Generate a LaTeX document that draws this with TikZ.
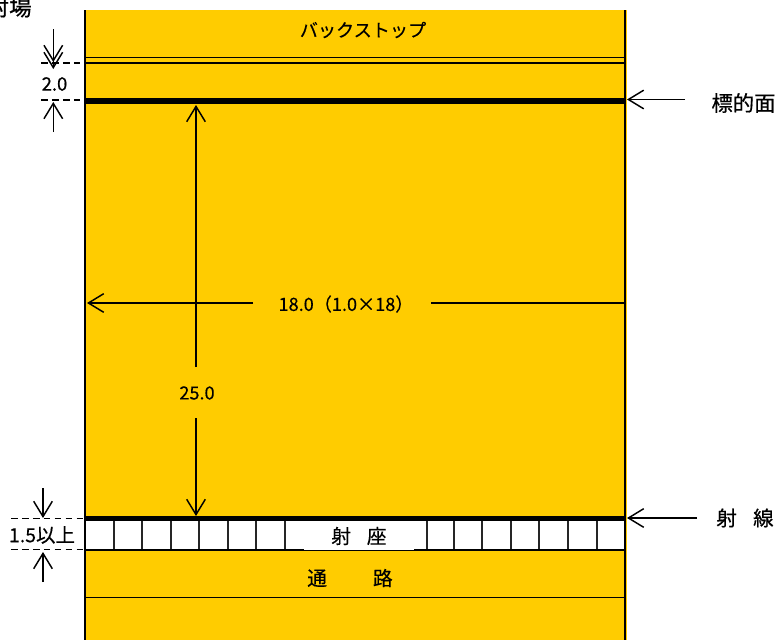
\documentclass[tikz,border=0pt]{standalone}
\usepackage{fontspec}
\setmainfont{Noto Sans CJK JP}
\newfontfamily\heavyfont[FakeBold=0.6]{Noto Sans CJK JP}
\newfontfamily\midfont[FakeBold=0.25]{Noto Sans CJK JP}
\usetikzlibrary{arrows.meta}
\tikzset{
  x=0.75pt,y=-0.75pt,
  dimline/.style={line width=1.1pt,-{Straight Barb[length=11.5pt,width=14pt,line width=1.1pt]}},
  plainline/.style={line width=1.1pt},
  guide/.style={line width=1.1pt,dash pattern=on 5pt off 3.2pt},
  rule/.style={line width=1.25pt},
  thinrule/.style={line width=1.05pt},
  heavy/.style={line width=3.8pt},
  edge/.style={line width=1.8pt},
  seatline/.style={line width=1.1pt,draw=black!85},
  lab/.style={inner sep=0pt,text=black},
  fa/.style={lab,font=\midfont\fontsize{13.6pt}{15pt}\selectfont},
  fb/.style={lab,font=\midfont\fontsize{14.8pt}{16pt}\selectfont},
  fc/.style={lab,font=\heavyfont\fontsize{15.3pt}{17pt}\selectfont},
}
\begin{document}
\begin{tikzpicture}
\useasboundingbox (0,0) rectangle (776,640);
\clip (0,0) rectangle (776,640);
% ground
\fill[fill={rgb,255:red,255;green,204;blue,0}] (85,10) rectangle (627,640);
\fill[white] (85,520) rectangle (625,550);
% seats
\foreach \sx in {114,142,171,199,228,256,285,427,454,482,511,539,568,597}
  \draw[seatline] (\sx,520) -- (\sx,550);
% horizontal rules
\draw[rule] (85,57.5) -- (625,57.5);
\draw[rule] (85,63) -- (625,63);
\draw[rule] (85,550) -- (625,550);
\draw[thinrule] (85,597.5) -- (625,597.5);
\fill[white] (304,540) rectangle (414,549.6);
\draw[heavy] (85,101) -- (625,101);
\draw[heavy] (85,518.5) -- (625,518.5);
\draw[edge] (85,10) -- (85,640);
\draw[edge] (625,10) -- (625,640);
% labels
\node[fa] (bs) at (363,30) {バックストップ};
\node[fc,anchor=east,font=\heavyfont\fontsize{17pt}{18pt}\selectfont] (site) at (32,7) {射場};
\node[fb,font=\heavyfont\fontsize{13.8pt}{15pt}\selectfont] (d2) at (54.5,84) {2.0};
\node[fb,font=\midfont\fontsize{14.6pt}{16pt}\selectfont] (d15) at (42,535) {1.5以上};
\node[fc,font=\heavyfont\fontsize{16pt}{17pt}\selectfont] (tface) at (743.5,103) {標的面};
\node[fc] (sline) at (745,518) {射\hspace{0.8em}線};
\node[fa] (wide) at (346,304) {18.0（1.0×18）};
\node[fa] (dist) at (197,393) {25.0};
\node[fb] (seat) at (359,536) {射\hspace{0.8em}座};
\node[fb] (path) at (350,578) {通\hspace{2.33em}路};
% coordinates
\coordinate (a1) at (53.3,29); \coordinate (a1t) at (53.3,62);
\coordinate (a1u) at (53.3,69);
\coordinate (a2) at (53.3,132); \coordinate (a2t) at (53.3,102);
\coordinate (b1) at (43,488); \coordinate (b1t) at (43,518);
\coordinate (b2) at (43,582); \coordinate (b2t) at (43,552);
\coordinate (t1) at (685,99.5); \coordinate (t1t) at (627,99.5);
\coordinate (s1) at (697,518); \coordinate (s1t) at (627,518);
\coordinate (w1) at (253,303); \coordinate (w1t) at (87,303);
\coordinate (w2) at (431,303); \coordinate (w2e) at (625,303);
\coordinate (v1) at (196,367); \coordinate (v1t) at (196,105);
\coordinate (v2) at (196,418); \coordinate (v2t) at (196,516);
% guides
\coordinate (g1a) at (41,63); \coordinate (g1b) at (85,63);
\coordinate (g2a) at (41,100); \coordinate (g2b) at (85,100);
\coordinate (g3a) at (11,518.5); \coordinate (g3b) at (83,518.5);
\coordinate (g4a) at (11,549.5); \coordinate (g4b) at (83,549.5);
\draw[guide] (g1a) -- (g1b);
\draw[guide] (g2a) -- (g2b);
\draw[guide] (g3a) -- (g3b);
\draw[guide] (g4a) -- (g4b);
% dimension arrows
\draw[dimline] (a1) -- (a1t);
\draw[dimline] (a1) -- (a1u);
\draw[dimline] (a2) -- (a2t);
\draw[dimline] (b1) -- (b1t);
\draw[dimline] (b2) -- (b2t);
\draw[dimline] (t1) -- (t1t);
\draw[dimline] (s1) -- (s1t);
\draw[dimline] (w1) -- (w1t);
\draw[plainline] (w2) -- (w2e);
\draw[dimline] (v1) -- (v1t);
\draw[dimline] (v2) -- (v2t);
\end{tikzpicture}
\end{document}
